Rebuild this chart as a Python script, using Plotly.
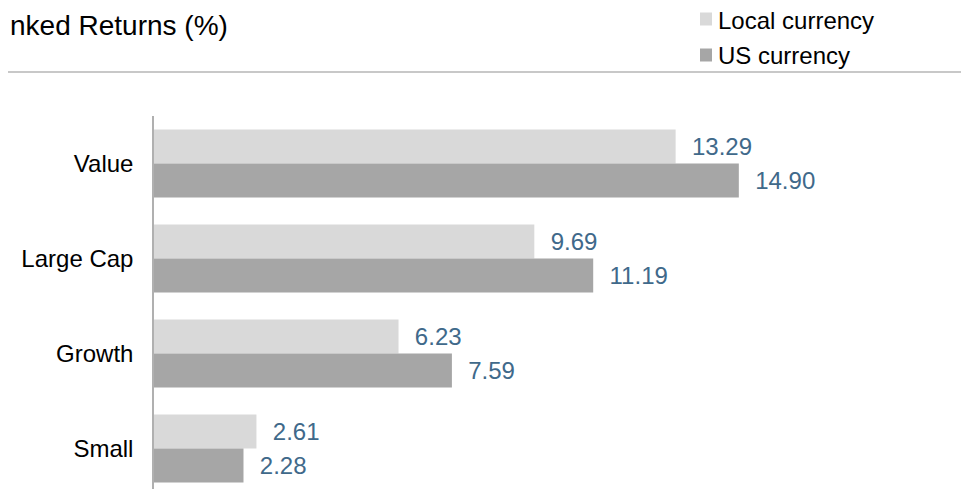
import plotly.graph_objects as go

# Данные
categories = ['Value', 'Large Cap', 'Growth', 'Small']
local_ccy = [13.29, 9.69, 6.23, 2.61]
us_ccy = [14.90, 11.19, 7.59, 2.28]
series_names = ['Local currency', 'US currency']
series_colors = ['#d9d9d9', '#a6a6a6']
title_text = 'nked Returns (%)'

FONT = 'Arial, Liberation Sans, sans-serif'
LABEL_COLOR = '#40698a'

# страница добавляет отступ body 8px, поэтому всё сдвинуто на 8px
L, T, PW, PH = 146, 108, 785, 380


def px(fx):
    return (fx - L) / PW


def py(fy):
    return 1 + (T - fy) / PH


fig = go.Figure()
for name, vals, color in zip(series_names, [local_ccy, us_ccy], series_colors):
    fig.add_trace(go.Bar(
        y=categories, x=vals, orientation='h', name=name,
        marker=dict(color=color, line=dict(width=0)),
        texttemplate='\u00a0\u00a0%{x:.2f}', textposition='outside', cliponaxis=False,
        textfont=dict(size=24, color=LABEL_COLOR, family=FONT)))

fig.update_layout(
    width=969, height=489,
    margin=dict(l=L, r=969 - L - PW, t=T, b=489 - T - PH),
    plot_bgcolor='white', paper_bgcolor='white',
    font=dict(family=FONT, size=24, color='#000000'),
    barmode='group', bargap=0.284, bargroupgap=0,
    showlegend=False,
)
fig.update_xaxes(range=[0, 20], visible=False, showgrid=False, zeroline=False)
fig.update_yaxes(range=[3.5, -0.5], showgrid=False, zeroline=False,
                 showline=True, linecolor='#b0b0b0', linewidth=1.5,
                 ticks='', ticklabelstandoff=14,
                 tickfont=dict(size=24, color='#000000'))

# легенда вручную (плотли не даёт поднять её выше)
for i, (name, color) in enumerate(zip(series_names, series_colors)):
    cy = 11 + 36 * i
    fig.add_shape(type='rect', xref='paper', yref='paper',
                  x0=px(692), x1=px(704), y0=py(cy - 6.5), y1=py(cy + 6.5),
                  fillcolor=color, line=dict(width=0))
    fig.add_annotation(text=name, xref='paper', yref='paper',
                       x=px(708), xanchor='left', y=py(cy + 1), yanchor='middle',
                       showarrow=False, font=dict(size=24, color='#000000', family=FONT))

# заголовок и разделительная линия
fig.add_annotation(text=title_text, xref='paper', yref='paper',
                   x=px(0), xanchor='left', y=py(18), yanchor='middle',
                   showarrow=False, font=dict(size=28, color='#000000', family=FONT))
fig.add_shape(type='line', xref='paper', yref='paper',
              x0=px(-8), x1=px(969), y0=py(64), y1=py(64),
              line=dict(color='#c8c8c8', width=2))

fig.write_html('out.html')
